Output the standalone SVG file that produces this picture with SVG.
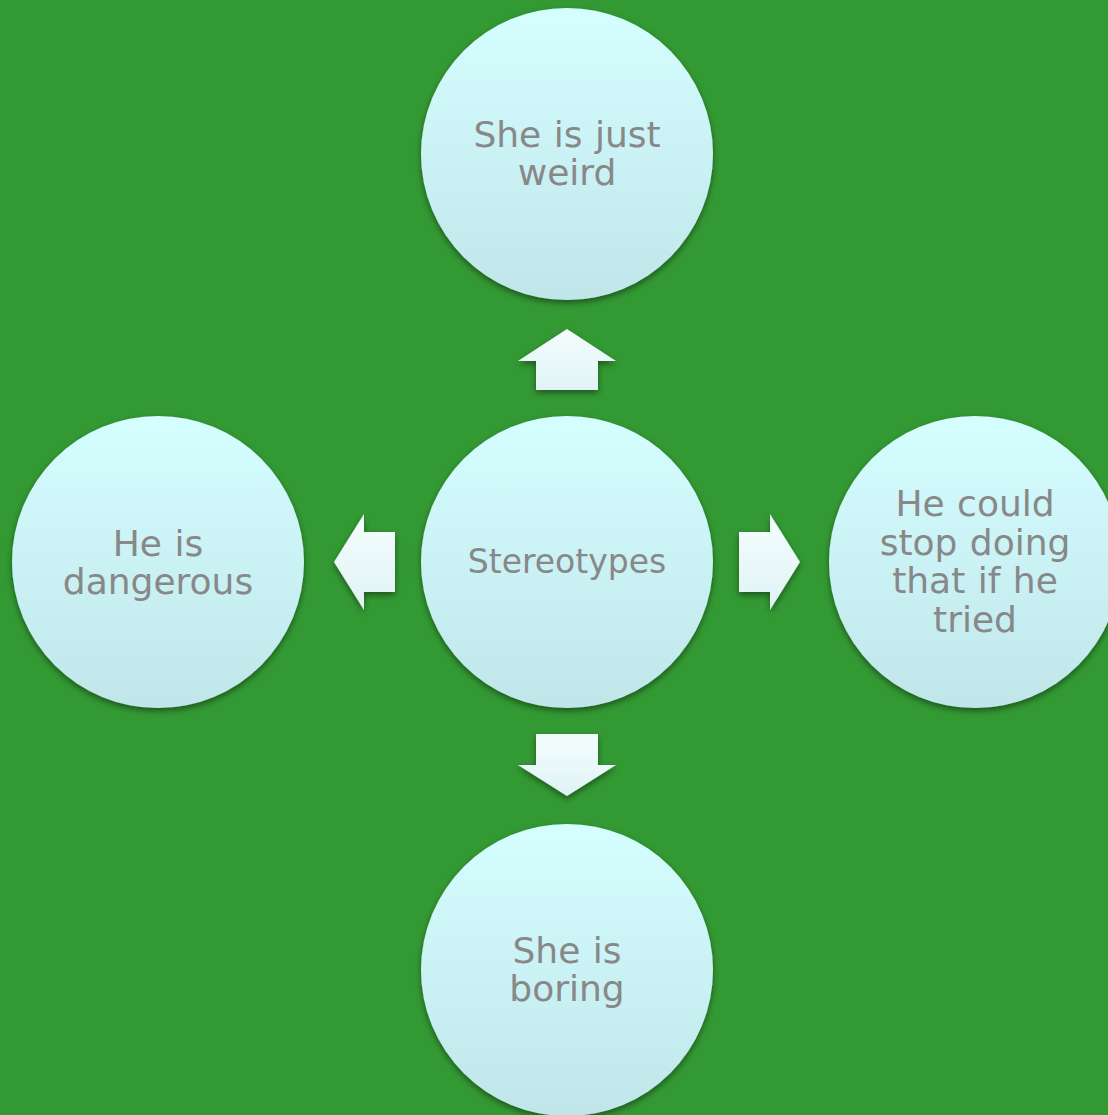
<svg xmlns="http://www.w3.org/2000/svg" width="1108" height="1115" viewBox="0 0 1108 1115">
<defs>
<linearGradient id="cg" x1="0" y1="0" x2="0" y2="1">
<stop offset="0" stop-color="#D5FEFF"/>
<stop offset="1" stop-color="#C0E6EA"/>
</linearGradient>
<linearGradient id="ag" x1="0" y1="0" x2="0" y2="1">
<stop offset="0" stop-color="#F4FDFD"/>
<stop offset="1" stop-color="#E0F3F5"/>
</linearGradient>
<filter id="sh" x="-20%" y="-20%" width="140%" height="150%">
<feGaussianBlur in="SourceAlpha" stdDeviation="3"/>
<feOffset dx="0" dy="3" result="b"/>
<feComponentTransfer><feFuncA type="linear" slope="0.45"/></feComponentTransfer>
<feMerge><feMergeNode/><feMergeNode in="SourceGraphic"/></feMerge>
</filter>
</defs>
<style>
.c{fill:url(#cg);filter:url(#sh)}
.a{fill:url(#ag);filter:url(#sh)}
.t{font-family:"DejaVu Sans",sans-serif;font-size:36px;word-spacing:1px;fill:#888888;text-anchor:middle}
</style>
<rect width="1108" height="1115" fill="#339933"/>
<g id="connectors">
<polygon class="a" points="567,329 616,361 598,361 598,390 536,390 536,361 518,361"/>
<polygon class="a" points="567,796 616,765 598,765 598,734 536,734 536,765 518,765"/>
<polygon class="a" points="334,562 364,514 364,532 395,532 395,592 364,592 364,610"/>
<polygon class="a" points="800,562 770,514 770,532 739,532 739,592 770,592 770,610"/>
</g>
<g id="n-top"><circle class="c" cx="567" cy="154" r="146"/>
<text class="t" x="567" y="147">She is just</text><text class="t" x="567" y="185">weird</text></g>
<g id="n-center"><circle class="c" cx="567" cy="562" r="146"/>
<text class="t" x="567" y="573" style="font-size:33px">Stereotypes</text></g>
<g id="n-left"><circle class="c" cx="158" cy="562" r="146"/>
<text class="t" x="158" y="556">He is</text><text class="t" x="158" y="594">dangerous</text></g>
<g id="n-right"><circle class="c" cx="975" cy="562" r="146"/>
<text class="t" x="975" y="516">He could</text><text class="t" x="975" y="555">stop doing</text><text class="t" x="975" y="593">that if he</text><text class="t" x="975" y="632">tried</text></g>
<g id="n-bottom"><circle class="c" cx="567" cy="970" r="146"/>
<text class="t" x="567" y="963">She is</text><text class="t" x="567" y="1001">boring</text></g>
</svg>
